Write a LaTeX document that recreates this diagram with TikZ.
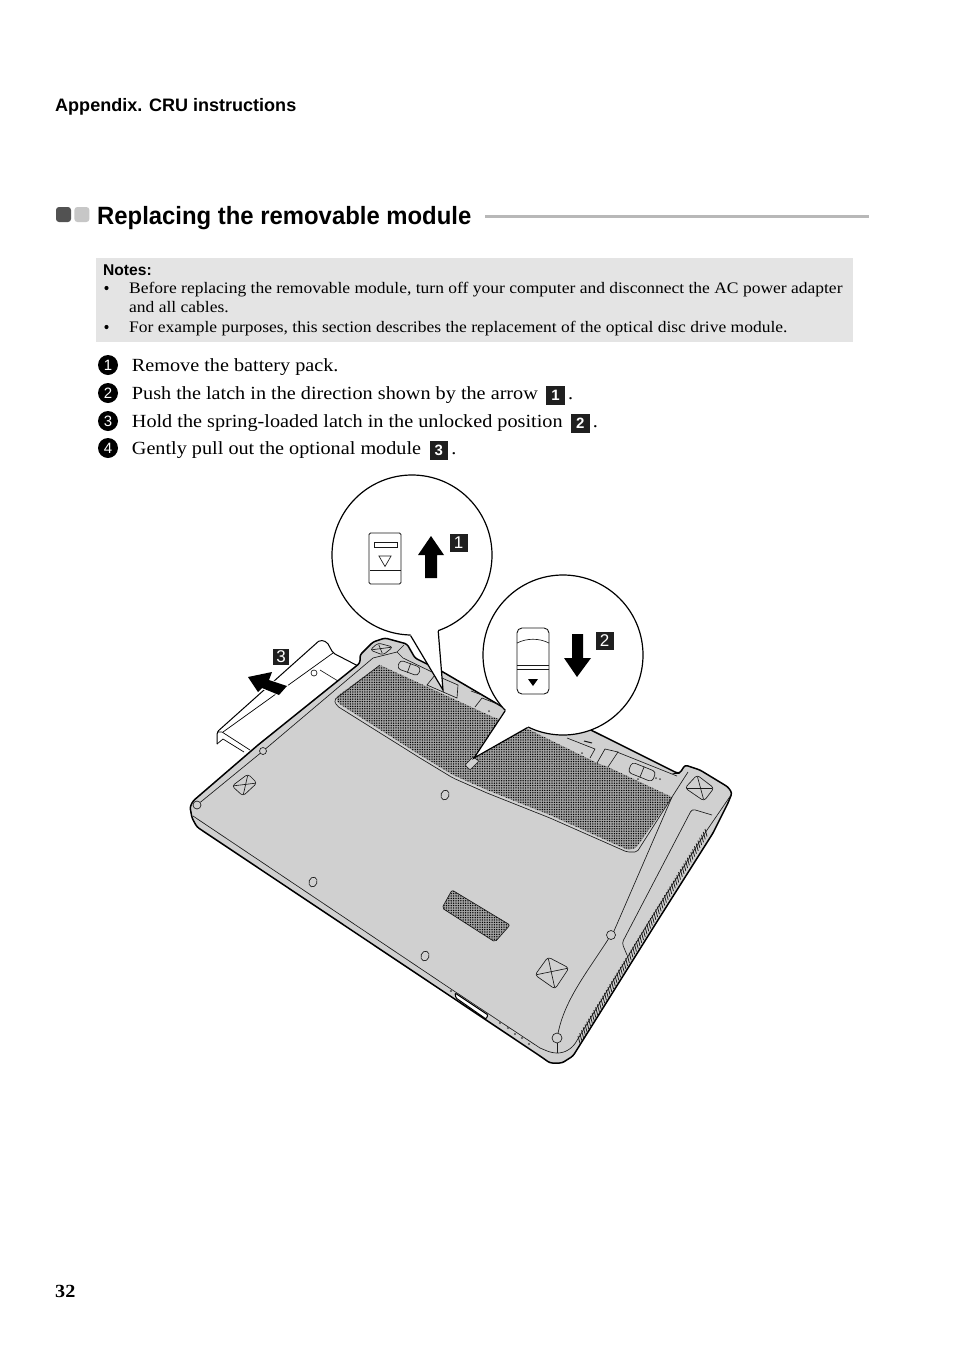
\documentclass[tikz,border=0pt]{standalone}
\usepackage{fontspec}
\setmainfont[FakeStretch=1.09]{Liberation Serif}
\setsansfont{Liberation Sans}
\newfontfamily\headingfont[FakeStretch=0.955]{Liberation Sans}
\usetikzlibrary{positioning,calc,patterns.meta,shapes.geometric}
\definecolor{bodygray}{HTML}{D0D0D0}
\definecolor{notegray}{HTML}{E4E4E4}
\definecolor{meshgray}{HTML}{A4A4A4}
\tikzset{
    thinline/.style={draw=black!90, line width=0.65pt},
    thickline/.style={draw=black, line width=1.5pt},
    drivepart/.style={draw=black, line width=1pt},
    lens/.style={circle, draw=black, line width=1.2pt, fill=white, inner sep=0pt, minimum size=160pt},
    lensline/.style={draw=black, line width=1.2pt},
    keybox/.style={fill=black!88, text=white, inner sep=0pt, minimum size=18.5pt, font=\fontsize{15}{15}\selectfont\sffamily\bfseries},
    piclabel/.style={fill=black!88, text=white, inner sep=0pt, minimum size=18pt, font=\fontsize{17}{17}\selectfont\sffamily},
    stepbullet/.style={circle, fill=black, text=white, inner sep=0pt, minimum size=20pt, font=\fontsize{15}{15}\selectfont\sffamily},
    steptext/.style={inner sep=0pt, text height=16pt, text depth=4pt, font=\fontsize{18.55}{20}\selectfont},
    notetext/.style={inner sep=0pt, anchor=base west, font=\fontsize{16.05}{18}\selectfont},
    screw/.style={ellipse, thinline, inner sep=0pt, minimum width=8pt, minimum height=10pt, rotate=-20},
    pin/.style={circle, thinline, fill=bodygray, inner sep=0pt},
    switchcap/.style={thinline, rounded corners=3.5pt, inner sep=0pt},
    mesh/.style={fill=meshgray, postaction={pattern={Dots[radius=0.75pt,distance=2.4pt]}, pattern color=black}},
}
\newcommand{\footpad}[4]{
    \draw[thinline, rounded corners=3pt] #1 -- #2 -- #3 -- #4 -- cycle;
    \draw[thinline, shorten <=2pt, shorten >=2pt] #1 -- #3;
    \draw[thinline, shorten <=2pt, shorten >=2pt] #2 -- #4;
}
\begin{document}
\begin{tikzpicture}[x=1pt, y=-1pt]
    \useasboundingbox[fill=white] (0,0) rectangle (954,1352);

    \node[inner sep=0pt, anchor=base west, font=\fontsize{18.03}{20}\selectfont\sffamily\bfseries] (chapter) at (55,111) {Appendix. CRU instructions};
    \node[inner sep=0pt, anchor=base west, font=\fontsize{25}{28}\selectfont\headingfont\bfseries] (title) at (97,224) {Replacing the removable module};
    \node[fill=black!68, rounded corners=3pt, minimum size=15pt, inner sep=0pt] (markdark) at (63.5,214.5) {};
    \node[fill=black!22, rounded corners=3pt, minimum size=15pt, inner sep=0pt, right=3pt of markdark] (marklight) {};
    \fill[black!28] (485,214.5) rectangle (869,218);

    \fill[notegray] (96,258) rectangle (853,342);
    \node[notetext, font=\fontsize{15.6}{18}\selectfont\sffamily\bfseries] (notes) at (103,275) {Notes:};
    \node[notetext] (noteone) at (129,293) {Before replacing the removable module, turn off your computer and disconnect the AC power adapter};
    \node[notetext] (noteonecont) at (129,312) {and all cables.};
    \node[notetext] (notetwo) at (129,332) {For example purposes, this section describes the replacement of the optical disc drive module.};
    \fill (106.5,288) circle (2.1pt) (106.5,327) circle (2.1pt);

    \node[stepbullet] (stepone) at (108,365) {1};
    \node[steptext, right=13.5pt of stepone] (textone) {Remove the battery pack.};
    \node[stepbullet] (steptwo) at (108,393) {2};
    \node[steptext, right=13.5pt of steptwo] (texttwo) {Push the latch in the direction shown by the arrow};
    \node[keybox, right=8pt of texttwo, yshift=-2.5pt] (inlineone) {1};
    \node[steptext, right=3pt of inlineone, yshift=2.5pt] (dotone) {.};
    \node[stepbullet] (stepthree) at (108,421) {3};
    \node[steptext, right=13.5pt of stepthree] (textthree) {Hold the spring-loaded latch in the unlocked position};
    \node[keybox, right=8pt of textthree, yshift=-2.5pt] (inlinetwo) {2};
    \node[steptext, right=3pt of inlinetwo, yshift=2.5pt] (dottwo) {.};
    \node[stepbullet] (stepfour) at (108,448) {4};
    \node[steptext, right=13.5pt of stepfour] (textfour) {Gently pull out the optional module};
    \node[keybox, right=8pt of textfour, yshift=-2.5pt] (inlinethree) {3};
    \node[steptext, right=3pt of inlinethree, yshift=2.5pt] (dotthree) {.};

    \node[inner sep=0pt, anchor=base west, font=\fontsize{18.5}{20}\selectfont\bfseries] (pagenum) at (55,1297) {32};

    \draw[drivepart, rounded corners=2pt] (217,744) -- (217,732) -- (320,640) -- (327,642) -- (333,653) -- (362,668);
    \draw[drivepart, line width=0.7pt] (223,732) -- (333,653);
    \draw[drivepart, line width=0.7pt] (217,732) -- (222,732) -- (250,750);
    \draw[drivepart, line width=0.7pt] (217,744) -- (223,739) -- (244,752);
    \draw[thinline] (320,670) -- (338,681);
    \node[pin, minimum size=6pt, fill=white] (drivehole) at (314,673) {};

    \draw[thickline, fill=bodygray, rounded corners=2.5pt] (190,807) -- (193,801) -- (258,745) -- (360,663) -- (360,655) -- (373,642) -- (385,638) -- (407,644) -- (415,658) -- (443,672) -- (506,709) -- (530,700) -- (607,738) -- (677,773) -- (680,773) -- (685,765) -- (700,770) -- (728,787) -- (732,793) -- (728,803) -- (713,833) -- (658,920) -- (573,1056) -- (562,1063) -- (550,1063) -- (540,1056) -- (197,827) -- (192,818) -- cycle;

    \path[mesh, rounded corners=1.5pt] (380,665) -- (493,717) -- (528,729) -- (597,763) -- (608,767) -- (672,797) -- (636,848) -- (628,850) -- (550,815) -- (487,790) -- (453,775) -- (420,755) -- (338,703) -- (336,697) -- cycle;
    \draw[thinline, rounded corners=2pt] (380,665) -- (334,700) -- (337,706) -- (420,758) -- (453,778) -- (487,793) -- (550,818) -- (627,852) -- (637,852) -- (672,797);
    \path[mesh, rounded corners=2pt] (452,890) -- (510,925) -- (495,942) -- (442,908) -- cycle;
    \draw[thinline, rounded corners=2pt] (452,890) -- (510,925) -- (495,942) -- (442,908) -- cycle;

    \draw[thinline] (193,816) -- (448,987) -- (540,1048);
    \draw[thinline, rounded corners=5pt] (540,1048) -- (552,1053) -- (563,1053) -- (573,1047) -- (650,920) -- (705,833) -- (731,795);
    \draw[thinline, rounded corners=3pt] (712,815) -- (692,809) -- (622,943) -- (627,955);
    \draw[thinline] (688,772) -- (672,797) -- (614,931);
    \node[pin, minimum size=9pt] (pinright) at (611,935) {};
    \node[pin, minimum size=10pt] (pinbottom) at (557,1038) {};
    \draw[thinline] (pinright) .. controls (585,975) and (565,1000) .. (pinbottom);
    \draw[thinline] (pinbottom) -- (557,1053);
    \node[pin, minimum size=8pt] (pinleft) at (197,805) {};
    \node[pin, minimum size=7pt] (pinmid) at (263,751) {};
    \draw[thinline] (pinleft) -- (pinmid);
    \draw[thinline] (pinmid) -- (373,658) -- (397,652) -- (404,645);
    \draw[thinline] (397,652) -- (403,658) -- (432,672);

    \foreach \t in {0,...,72}{
        \draw[thinline, line width=0.8pt] ($(705,829)!\t/72!(578,1036)$) -- ++(2,7.5);
    }

    \footpad{(232,786)}{(248,774)}{(257,783)}{(243,796)}
    \footpad{(370,650)}{(378,643)}{(393,647)}{(383,655)}
    \footpad{(685,788)}{(697,775)}{(714,788)}{(704,801)}
    \footpad{(535,975)}{(548,957)}{(569,968)}{(555,989)}
    \node[screw] (screwa) at (313,882) {};
    \node[screw] (screwb) at (425,956) {};
    \node[screw] (screwc) at (445,795) {};

    \draw[thickline, line width=1pt, fill=white, rounded corners=1pt] (455,993) -- (488,1015) -- (486,1019) -- (456,998) -- cycle;
    \foreach \px/\py in {451/991,500/1023,508/1028,515/1034,522/1038,529/1044}{
        \fill[black!70] (\px,\py) circle (1.1pt);
    }

    \node[switchcap, minimum width=22pt, minimum height=9pt, rotate=-20] (switchleft) at (409,668) {};
    \draw[thinline] (switchleft.north) -- (switchleft.south);
    \fill[black!70] (402,677) circle (0.9pt) (406,678) circle (0.9pt);
    \node[switchcap, minimum width=26pt, minimum height=11pt, rotate=-22] (switchright) at (642,772) {};
    \draw[thinline] (switchright.north) -- (switchright.south);
    \fill[black!70] (638,779) circle (1pt) (656,778) circle (1pt) (660,779) circle (1pt);

    \draw[thinline, fill=bodygray] (427,685) -- (435,675) -- (458,685) -- (457,698) -- cycle;
    \draw[thinline] (475,707) -- (482,698) -- (500,705);
    \draw[thinline] (471,691) -- (482,695);
    \draw[thinline] (567,738) -- (595,749) -- (590,758);
    \draw[thinline] (597,763) -- (605,749) -- (618,752) -- (608,767);
    \draw[thinline] (617,752) -- (677,776);
    \fill[black!70] (489,711) circle (1pt) (582,753) circle (1pt);
    \draw[thinline, line width=1pt] (584,741) -- (592,743);

    \draw[thinline, fill=bodygray, rounded corners=1pt] (465,765) -- (473,757) -- (479,761) -- (470,770) -- cycle;

    \node[lens] (lensone) at (412,555) {};
    \coordinate (tipone) at (443,690);
    \fill[white] (lensone.center) -- (lensone.-91.5) -- (tipone) -- (lensone.-71) -- cycle;
    \draw[lensline] (lensone.-91.5) -- (tipone) -- (lensone.-71);
    \node[lens] (lenstwo) at (563,655) {};
    \coordinate (tiptwo) at (474,758);
    \fill[white] (lenstwo.center) -- (lenstwo.-136.5) -- (tiptwo) -- (lenstwo.-116) -- cycle;
    \draw[lensline] (lenstwo.-136.5) -- (tiptwo) -- (lenstwo.-116);

    \draw[thinline, line width=0.9pt, rounded corners=1.5pt] (369,584) -- (369,533) -- (401,533) -- (401,584) -- cycle;
    \draw[thinline] (370,570) -- (401,570);
    \draw[thinline, line width=0.7pt] (374,542) rectangle (397,547);
    \node[regular polygon, regular polygon sides=3, shape border rotate=180, thinline, inner sep=0pt, minimum size=14pt] (triangleup) at (385,559.5) {};
    \fill[black] (431,536) -- (444,555) -- (437,555) -- (437,578) -- (425,578) -- (425,555) -- (418,555) -- cycle;

    \draw[thinline, line width=0.9pt, rounded corners=5pt] (517,628) rectangle (549,694);
    \draw[thinline] (517,643) .. controls (527,638) and (539,638) .. (549,643);
    \draw[thinline] (517,665) -- (549,665) (517,669) -- (549,669);
    \fill[black] (528,679) -- (538,679) -- (533,686) -- cycle;
    \fill[black] (577,677) -- (591,658) -- (583,658) -- (583,634) -- (572,634) -- (572,658) -- (564,658) -- cycle;

    \node[piclabel] (labelone) at (458.5,543) {1};
    \node[piclabel] (labeltwo) at (604.5,641) {2};
    \filldraw[black, draw=white, line width=1.8pt] (248,677) -- (272,672) -- (269,680) -- (287,686) -- (279,695) -- (262,688) -- (258,692) -- cycle;
    \fill[black] (248,677) -- (272,672) -- (269,680) -- (287,686) -- (279,695) -- (262,688) -- (258,692) -- cycle;
    \node[piclabel, minimum size=17pt, draw=white, line width=1pt] (labelthree) at (281,656.5) {3};
\end{tikzpicture}
\end{document}
